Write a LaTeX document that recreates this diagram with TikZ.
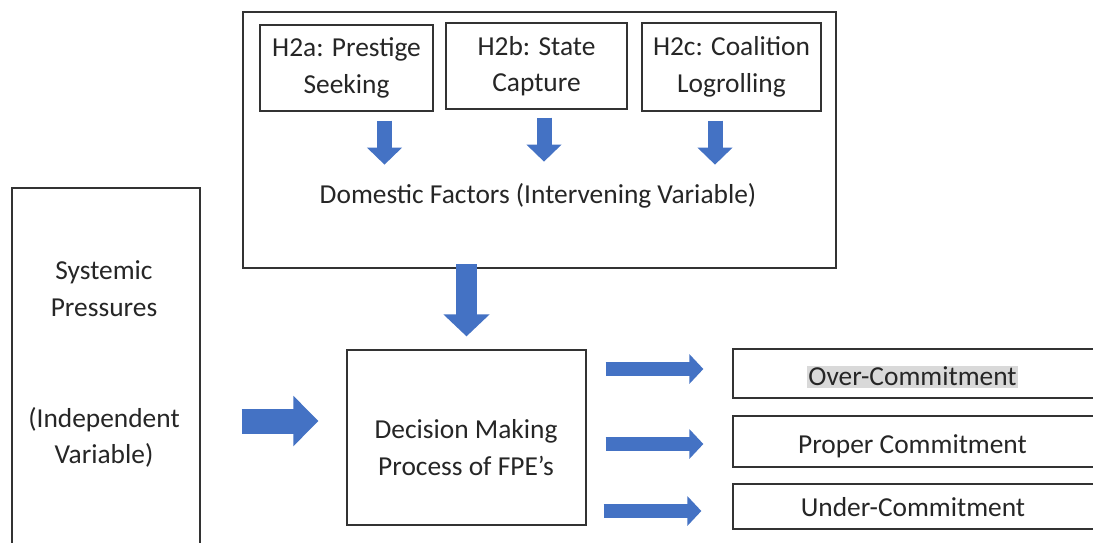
\documentclass[tikz,border=0pt]{standalone}
\usepackage{fontspec}
\setmainfont{Carlito}
\usetikzlibrary{arrows.meta,calc}
\definecolor{officeblue}{HTML}{4472C4}
\definecolor{hilite}{HTML}{D9D9D9}

\begin{document}
\begin{tikzpicture}[x=1pt,y=-1pt,
  font=\fontsize{27.4}{36.5}\selectfont,
  box/.style={draw=black!80,line width=1.3pt,inner sep=0pt,text=black!85,align=center},
  txt/.style={inner sep=0pt,text=black!85,align=center},
  captxt/.style={txt,text height=18pt,text depth=0pt},
  blockarrow/.style n args={3}{draw=officeblue,line width=#1,-{Triangle[length=#2,width=#3]}}
]
\useasboundingbox (0,0) rectangle (1093,542);
\fill[white] (0,0) rectangle (1093,542);
\clip (0,0) rectangle (1093,542);

% domestic factors
\node[box,minimum width=593pt,minimum height=256pt] (domain) at (539.5,140) {};
\node[box,minimum width=173pt,minimum height=86pt] (h2a) at (346.5,68) {H2a: Prestige\\Seeking};
\node[box,minimum width=181pt,minimum height=86pt] (h2b) at (536.5,66) {H2b: State\\Capture};
\node[box,minimum width=179pt,minimum height=88pt] (h2c) at (731.5,67) {H2c: Coalition\\Logrolling};
\node[txt] (domestic) at (538,196) {Domestic Factors (Intervening Variable)};

% systemic pressures
\node[box,minimum width=188pt,minimum height=380pt] (sys) at (106,378) {};
\node[txt] (systext) at (104,364) {Systemic\\Pressures\\[74.5pt](Independent\\Variable)};

% decision making
\node[box,minimum width=239pt,minimum height=175pt] (dec) at (466.5,437.5) {};
\node[txt] (dectext) at (466,447.5) {Decision Making\\Process of FPE’s};

% outcomes
\node[box,minimum width=361pt,minimum height=49pt] (over) at (913.5,373.5) {};
\node[box,minimum width=361pt,minimum height=51pt] (proper) at (913.5,441.5) {};
\node[box,minimum width=361pt,minimum height=45pt] (under) at (913.5,506.5) {};
\node[txt,fill=hilite,inner xsep=1.5pt,text height=19pt,text depth=3pt] (overtext) at (912.5,377) {Over-Commitment};
\node[captxt] (propertext) at (912.5,444.5) {Proper Commitment};
\node[captxt] (undertext) at (913,507.5) {Under-Commitment};

% arrows
\draw[blockarrow={15pt}{17pt}{34pt}] ([xshift=38pt,yshift=-9pt]h2a.south) -- ([xshift=38pt,yshift=-53pt]h2a.south);
\draw[blockarrow={15pt}{17pt}{34pt}] ([xshift=7.5pt,yshift=-8pt]h2b.south) -- ([xshift=7.5pt,yshift=-52pt]h2b.south);
\draw[blockarrow={15pt}{17pt}{34pt}] ([xshift=-16.5pt,yshift=-9pt]h2c.south) -- ([xshift=-16.5pt,yshift=-53pt]h2c.south);
\draw[blockarrow={21pt}{22pt}{45pt}] ([yshift=85pt]dec.north) -- ([yshift=13pt]dec.north);
\draw[blockarrow={25pt}{25pt}{49pt}] ([xshift=41pt,yshift=-43pt]sys.east) -- ([xshift=-28pt,yshift=16.5pt]dec.west);
\draw[blockarrow={14pt}{14pt}{29pt}] ($(dec.east |- over.west)+(19,-4.5)$) -- ($(over.west)+(-29,-4.5)$);
\draw[blockarrow={14pt}{14pt}{29pt}] ($(dec.east |- proper.west)+(19,2.5)$) -- ($(proper.west)+(-29,2.5)$);
\draw[blockarrow={14pt}{14pt}{29pt}] ($(dec.east |- under.west)+(17,4.5)$) -- ($(under.west)+(-31,4.5)$);

\end{tikzpicture}
\end{document}
